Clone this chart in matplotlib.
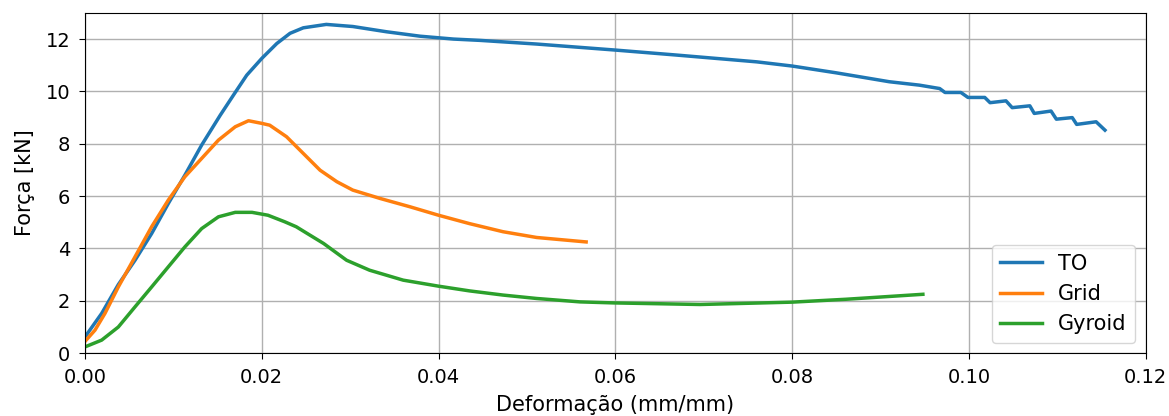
import matplotlib
matplotlib.use("Agg")
import matplotlib.pyplot as plt

plt.rcParams["font.size"] = 15
plt.rcParams["xtick.labelsize"] = 14
plt.rcParams["ytick.labelsize"] = 14
plt.rcParams["xtick.major.size"] = 4.5
plt.rcParams["ytick.major.size"] = 4.5
plt.rcParams["xtick.major.pad"] = 6
plt.rcParams["ytick.major.pad"] = 6

# Deformação (mm/mm) and Força (kN) for each infill
to_x = [0.0, 0.00189, 0.00377, 0.00566, 0.00754, 0.00943, 0.0113, 0.0132,
        0.0153, 0.0168, 0.0183, 0.0200, 0.0217, 0.0232, 0.0247, 0.0273,
        0.0303, 0.0341, 0.0379, 0.0417, 0.0447, 0.0511, 0.0600, 0.0669,
        0.0760, 0.0800, 0.0850, 0.0910, 0.0944, 0.0967, 0.0973, 0.0991,
        0.0999, 0.1018, 0.1024, 0.1042, 0.1049, 0.1069, 0.1074, 0.1093,
        0.1099, 0.1117, 0.1122, 0.1144, 0.1154]
to_y = [0.62, 1.52, 2.62, 3.55, 4.57, 5.72, 6.80, 7.95,
        9.09, 9.86, 10.62, 11.26, 11.83, 12.22, 12.43, 12.56,
        12.48, 12.28, 12.11, 12.0, 11.95, 11.81, 11.58, 11.39,
        11.13, 10.97, 10.71, 10.37, 10.24, 10.11, 9.96, 9.96,
        9.77, 9.77, 9.57, 9.64, 9.38, 9.45, 9.16, 9.25,
        8.94, 9.0, 8.74, 8.84, 8.52]

grid_x = [0.0, 0.00113, 0.00226, 0.00377, 0.00566, 0.00754, 0.00943, 0.0113,
          0.0132, 0.0151, 0.0170, 0.0185, 0.0200, 0.0209, 0.0228, 0.0247,
          0.0266, 0.0285, 0.0303, 0.0334, 0.0368, 0.0400, 0.0435, 0.0473,
          0.0511, 0.0567]
grid_y = [0.45, 0.88, 1.52, 2.53, 3.68, 4.83, 5.85, 6.74,
          7.44, 8.14, 8.65, 8.88, 8.78, 8.71, 8.27, 7.63,
          6.99, 6.55, 6.23, 5.91, 5.59, 5.27, 4.95, 4.64,
          4.42, 4.25]

gyroid_x = [0.0, 0.00189, 0.00377, 0.00566, 0.00754, 0.00943, 0.0113, 0.0132,
            0.0151, 0.0170, 0.0189, 0.0207, 0.0226, 0.0239, 0.0270, 0.0296,
            0.0322, 0.0360, 0.0400, 0.0435, 0.0473, 0.0511, 0.0560, 0.0599,
            0.0696, 0.0800, 0.0861, 0.0948]
gyroid_y = [0.24, 0.50, 1.0, 1.77, 2.53, 3.30, 4.06, 4.76,
            5.21, 5.38, 5.38, 5.27, 5.02, 4.83, 4.19, 3.55,
            3.17, 2.79, 2.56, 2.38, 2.22, 2.09, 1.96, 1.92,
            1.86, 1.95, 2.06, 2.25]

fig, ax = plt.subplots(figsize=(11.69, 4.16), dpi=100)
fig.subplots_adjust(left=0.0727, right=0.980, top=0.969, bottom=0.151)

ax.plot(to_x, to_y, lw=2.5, label="TO")
ax.plot(grid_x, grid_y, lw=2.5, label="Grid")
ax.plot(gyroid_x, gyroid_y, lw=2.5, label="Gyroid")

ax.set_xlim(0, 0.12)
ax.set_ylim(0, 13)
ax.set_xlabel("Deformação (mm/mm)", labelpad=6)
ax.set_ylabel("Força [kN]", labelpad=8)
ax.grid(True, lw=1.0)
ax.legend(loc="lower right")

fig.savefig("out.png", dpi=100)
